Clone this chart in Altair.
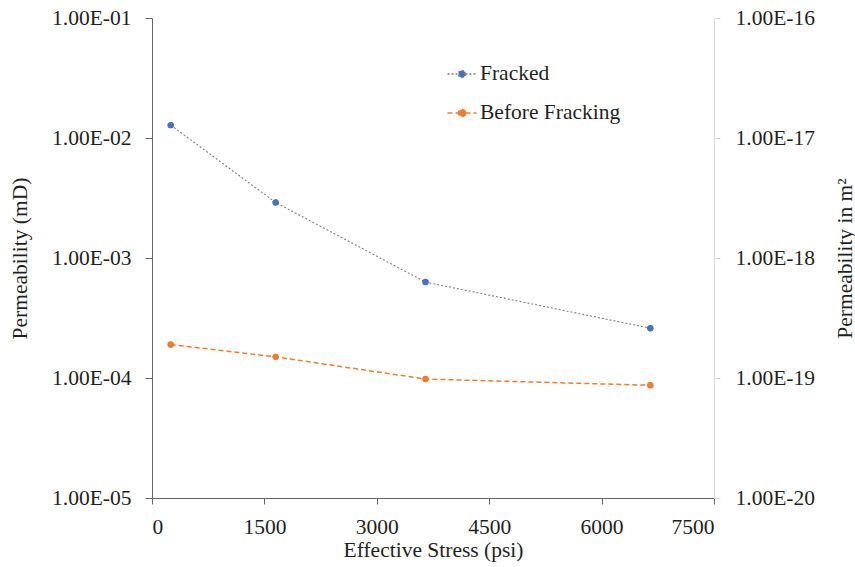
import altair as alt
import pandas as pd

# ---- data ----
stress = [250, 1650, 3650, 6650]
fracked = [1.28e-2, 2.9e-3, 6.3e-4, 2.6e-4]
before = [1.9e-4, 1.5e-4, 9.8e-5, 8.7e-5]
series_names = ["Fracked", "Before Fracking"]
point_colors = ["#4472C4", "#ED7D31"]
line_colors = ["#7F7F7F", "#ED7D31"]
dashes = [[2, 2], [5, 3]]
x_ticks = [0, 1500, 3000, 4500, 6000, 7500]
left_ticks = [1e-5, 1e-4, 1e-3, 1e-2, 1e-1]
right_ticks = [1e-20, 1e-19, 1e-18, 1e-17, 1e-16]
md_to_m2 = 1e-15

df = pd.DataFrame({
    "stress": stress * 2,
    "perm": fracked + before,
    "series": [series_names[0]] * len(stress) + [series_names[1]] * len(stress),
})
df["perm_m2"] = df["perm"] * md_to_m2

FONT = "Liberation Serif"
FS = 21.5
TXT = "#1f1f1f"

x_enc = alt.X(
    "stress:Q",
    scale=alt.Scale(domain=[0, 7500], nice=False),
    axis=alt.Axis(
        values=x_ticks, format="d", title="Effective Stress (psi)",
        domainColor="#666666", tickColor="#666666", tickSize=6,
        labelPadding=12, titleX=281, titleY=58, titleBaseline="alphabetic",
        titleAlign="center",
    ),
)

left_expr = ("'1.00E-' + (round(-log(datum.value)/LN10) < 10 ? '0' : '') + "
             "round(-log(datum.value)/LN10)")
right_expr = "'1.00E-' + round(-log(datum.value)/LN10)"

y_enc = alt.Y(
    "perm:Q",
    scale=alt.Scale(type="log", domain=[1e-5, 1e-1], nice=False),
    axis=alt.Axis(
        values=left_ticks, labelExpr=left_expr, title="Permeability (mD)",
        domainColor="#666666", tickColor="#666666", tickSize=7,
        labelPadding=14, titleX=-132, titleY=240, titleAngle=270,
        titleAlign="center", titleBaseline="middle",
    ),
)

symbol_path = ("M-1.45,0H-0.35M0.35,0H1.45"
               "M0.35,0A0.35,0.35,0,1,1,-0.35,0A0.35,0.35,0,1,1,0.35,0Z")
legend = alt.Legend(
    title=None, orient="none", legendX=299, legendY=45,
    symbolType=symbol_path, symbolSize=400, labelFont=FONT,
    labelFontSize=FS, labelColor=TXT, labelOffset=7, rowPadding=17,
    padding=0, labelLimit=400,
)

base = alt.Chart(df)

line_fr = base.transform_filter(alt.datum.series == series_names[0]).mark_line(
    color=line_colors[0], strokeWidth=1.1, strokeDash=dashes[0]
).encode(x=x_enc, y=y_enc)

line_bf = base.transform_filter(alt.datum.series == series_names[1]).mark_line(
    color=line_colors[1], strokeWidth=1.5, strokeDash=dashes[1]
).encode(x=x_enc, y=y_enc)

pts = base.mark_point(filled=True, size=28, opacity=1, strokeWidth=1).encode(
    x=x_enc, y=y_enc,
    fill=alt.Fill("series:N", scale=alt.Scale(domain=series_names, range=point_colors), legend=legend),
    stroke=alt.Stroke("series:N", scale=alt.Scale(domain=series_names, range=line_colors), legend=legend),
    strokeDash=alt.StrokeDash("series:N", scale=alt.Scale(domain=series_names, range=dashes), legend=legend),
)

cover = base.mark_point(filled=True, size=42, opacity=1, strokeWidth=0).encode(
    x=x_enc, y=y_enc,
    fill=alt.Fill("series:N", scale=alt.Scale(domain=series_names, range=point_colors), legend=None),
)

inner = alt.layer(line_fr, line_bf, pts, cover)

right = base.mark_point(opacity=0).encode(
    x=x_enc,
    y=alt.Y(
        "perm_m2:Q",
        scale=alt.Scale(type="log", domain=[1e-20, 1e-16], nice=False),
        axis=alt.Axis(
            orient="right", values=right_ticks, labelExpr=right_expr,
            title="Permeability in m²",
            domainColor="#D9D9D9", tickColor="#D9D9D9", tickSize=6,
            labelPadding=15, titleX=131, titleY=240, titleAngle=270,
            titleAlign="center", titleBaseline="middle",
        ),
    ),
)

chart = alt.layer(inner, right).resolve_scale(y="independent").properties(
    width=562, height=480, autosize="none",
    padding={"left": 152, "top": 18, "right": 141, "bottom": 69},
    background="white",
).configure_view(stroke=None).configure_axis(
    grid=False, labelFont=FONT, labelFontSize=FS, labelColor=TXT,
    titleFont=FONT, titleFontSize=FS, titleColor=TXT, titleFontWeight="normal",
    domainWidth=1, tickWidth=1,
)

chart.save("out.html", embed_options={"renderer": "svg", "actions": False})
